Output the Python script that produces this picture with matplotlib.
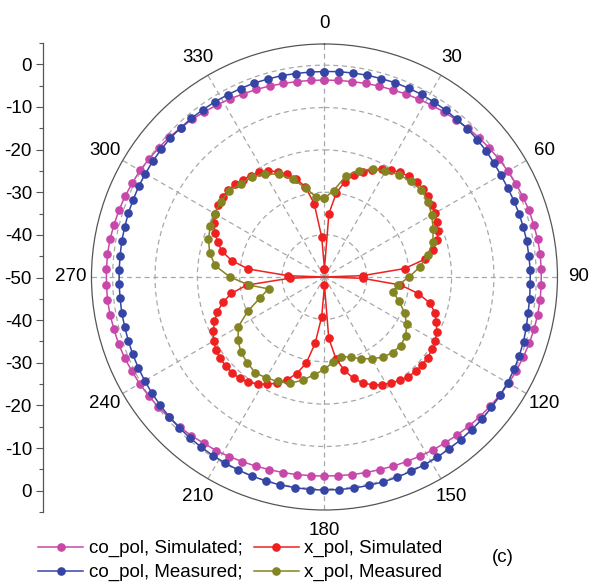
import numpy as np
import matplotlib
matplotlib.use("Agg")
import matplotlib.pyplot as plt

plt.rcParams["font.family"] = ["Liberation Sans", "DejaVu Sans"]

# angles in degrees (co_pol and simulated x_pol every 4 deg, measured x_pol every 6 deg)
ang_4 = np.arange(0, 360, 4)
ang_6 = np.arange(0, 360, 6)

co_sim = [
    -3.5, -3.5, -3.4, -3.3, -3.1, -3.0, -2.7, -2.5, -2.2, -1.9, -1.6, -1.2,
    -0.9, -0.6, -0.3, 0.0, 0.3, 0.5, 0.8, 0.9, 1.1, 1.2, 1.2,
    1.2, 1.2, 1.1, 1.0, 0.8, 0.6, 0.4, 0.2, -0.1, -0.4, -0.7, -1.0,
    -1.3, -1.6, -1.8, -2.1, -2.3, -2.5, -2.7, -2.8, -2.9, -3.0,
    -3.0,
    -3.0, -2.9, -2.8, -2.7, -2.5, -2.3, -2.0, -1.7, -1.5, -1.1, -0.8,
    -0.5, -0.2, 0.1, 0.4, 0.6, 0.9, 1.1, 1.2, 1.4, 1.5, 1.5,
    1.5, 1.5, 1.4, 1.2, 1.0, 0.8, 0.5, 0.3, -0.1, -0.4, -0.7, -1.1,
    -1.4, -1.8, -2.1, -2.4, -2.7, -2.9, -3.1, -3.3, -3.4, -3.5,
]
co_meas = [
    -1.5, -1.4, -1.4, -1.3, -1.3, -1.2, -1.2, -1.2, -1.3, -1.3, -1.4, -1.4,
    -1.5, -1.6, -1.8, -1.9, -1.9, -1.8, -1.7, -1.6, -1.5, -1.5, -1.4,
    -1.4, -1.3, -1.2, -0.9, -0.6, -0.4, -0.2, -0.1, 0.0, 0.0, 0.1, 0.1,
    0.1, 0.1, 0.2, 0.2, 0.2, 0.3, 0.3, 0.3, 0.3, 0.3,
    0.3,
    0.3, 0.2, 0.2, 0.1, 0.0, -0.1, -0.2, -0.3, -0.4, -0.5, -0.6,
    -0.7, -0.8, -0.9, -1.0, -1.1, -1.2, -1.3, -1.4, -1.4, -1.5, -1.5,
    -1.5, -1.5, -1.4, -1.4, -1.3, -1.3, -1.2, -1.2, -1.1, -1.1, -1.0, -1.1,
    -1.1, -1.2, -1.2, -1.3, -1.3, -1.3, -1.4, -1.4, -1.5, -1.5,
]
x_sim = [
    -48.0, -35.0, -30.0, -27.0, -25.0, -23.6, -22.3, -21.2, -20.3, -19.5,
    -19.0, -18.7, -18.8, -19.1, -19.4, -19.9, -20.5, -21.2, -22.0, -23.5,
    -26.0, -31.0, -41.0,
    -41.0, -32.0, -27.5, -24.3, -22.6, -21.5, -20.5, -19.8, -19.4, -19.1,
    -19.0, -19.0, -19.3, -19.8, -20.5, -21.2, -22.1, -23.4, -25.1, -27.5,
    -30.5, -35.5,
    -48.0,
    -40.6, -34.2, -29.2, -26.3, -24.2, -22.6, -21.3, -20.2, -19.3, -18.8,
    -18.6, -18.6, -18.8, -19.1, -19.8, -20.8, -22.0, -23.4, -25.3, -27.7,
    -31.5, -41.8,
    -41.5, -31.9, -27.8, -25.1, -23.5, -22.1, -21.0, -20.2, -19.7, -19.5,
    -19.4, -19.6, -20.0, -20.4, -20.8, -21.6, -22.8, -24.2, -26.0, -28.2,
    -32.5, -40.5,
]
# nulls of the simulated cross-pol that fall between samples
x_sim_null_ang = [90, 270]
x_sim_null_val = [-50.0, -50.0]

x_meas = [
    -31.4, -29.5, -25.6, -23.6, -22.1, -21.2, -20.1, -19.6, -19.3, -19.7,
    -20.8, -21.9, -23.1, -25.1, -27.4,
    -30.0, -32.5, -33.5, -31.5, -29.3, -27.6, -26.3, -25.8, -26.0, -26.6,
    -27.7, -28.9, -30.1, -30.8, -29.9,
    -28.2, -26.8, -25.1, -23.6, -23.0, -22.5, -22.1, -22.8, -23.4, -24.8,
    -26.5, -30.2, -34.0, -36.5, -32.0,
    -27.7, -24.0, -22.3, -21.2, -20.5, -20.1, -19.7, -19.7, -20.4, -20.9,
    -21.8, -23.5, -25.7, -28.5, -31.0,
]

r_min, r_max = -50, 5
r_grid = [-40, -30, -20, -10, 0]

C_CO_SIM = "#c848aa"
C_CO_MEAS = "#3545a5"
C_X_SIM = "#ee2020"
C_X_MEAS = "#848422"


def closed(ang, val):
    a = np.deg2rad(np.append(ang, ang[0]))
    v = np.append(val, val[0])
    return a, v


fig = plt.figure(figsize=(5.94, 5.84), dpi=100)
ax = fig.add_axes([0.154, 0.1267, 0.7845, 0.798], projection="polar")
ax.set_theta_zero_location("N")
ax.set_theta_direction(-1)

mk = dict(marker="o", markersize=5.2, lw=1.1)

a, v = closed(ang_4, co_sim)
ax.plot(a, v, color=C_CO_SIM, label="co_pol, Simulated;", **mk)
a, v = closed(ang_4, co_meas)
ax.plot(a, v, color=C_CO_MEAS, label="co_pol, Measured;", **mk)

# simulated x_pol: line goes through the nulls, markers only on samples
xa = np.concatenate([ang_4, x_sim_null_ang])
xv = np.concatenate([x_sim, x_sim_null_val])
order = np.argsort(xa)
xa, xv = xa[order], xv[order]
is_sample = ~np.isin(xa, x_sim_null_ang)
a, v = closed(xa, xv)
marks = list(np.where(np.append(is_sample, True))[0])
ax.plot(a, v, color=C_X_SIM, markevery=marks, label="x_pol, Simulated", **mk)

a, v = closed(ang_6, x_meas)
ax.plot(a, v, color=C_X_MEAS, label="x_pol, Measured", **mk)

ax.set_rlim(r_min, r_max)
ax.set_rticks(r_grid)
ax.set_yticklabels([])
ax.tick_params(axis="y", length=0)

ax.set_xticks(np.deg2rad(np.arange(0, 360, 30)))
ax.set_xticklabels([str(d) for d in range(0, 360, 30)])
ax.set_xticks(np.deg2rad(np.arange(15, 360, 30)), minor=True)
ax.tick_params(axis="x", which="major", direction="in", length=7, width=0.8,
               color="#555555", pad=8, labelsize=13.5)
ax.tick_params(axis="x", which="minor", direction="in", length=4, width=0.8,
               color="#555555")
ax.grid(True, color="#a8a8a8", linestyle=(0, (4, 3)), linewidth=0.9)
ax.spines["polar"].set_color("#555555")
ax.spines["polar"].set_linewidth(0.9)

# stand-alone radial scale on the left, mirrored about the centre (-50 dB)
span = r_max - r_min
axr = fig.add_axes([43 / 594, 72 / 584, 0.001, 469 / 584])
axr.set_ylim(-span, span)
for s in ["top", "right", "bottom"]:
    axr.spines[s].set_visible(False)
axr.spines["left"].set_color("#555555")
axr.spines["left"].set_linewidth(0.9)
axr.patch.set_visible(False)
axr.set_xticks([])
r_pos = [p for p in range(50, -51, -10)]
axr.set_yticks(r_pos)
axr.set_yticklabels([str(abs(p) + r_min) for p in r_pos])
axr.set_yticks([p for p in range(-55, 56, 10)], minor=True)
axr.tick_params(axis="y", which="major", length=5, width=0.8, color="#555555",
                pad=3, labelsize=13.5)
axr.tick_params(axis="y", which="minor", length=3, width=0.8, color="#555555")

handles, labels = ax.get_legend_handles_labels()
fig.legend(handles, labels, ncol=2, loc="upper left",
           bbox_to_anchor=(38 / 594, 1 - 540 / 584), frameon=False,
           fontsize=13.5, handlelength=2.4, handletextpad=0.3,
           columnspacing=0.6, labelspacing=0.36, borderpad=0, borderaxespad=0)

fig.text(503 / 594, 1 - 557 / 584, "(c)", fontsize=13.5, ha="center", va="center")

fig.savefig("out.png", dpi=100)
